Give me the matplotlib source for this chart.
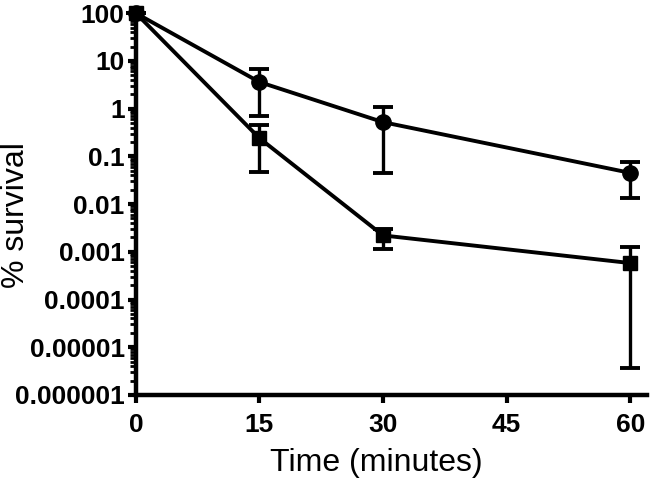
import numpy as np
import matplotlib.pyplot as plt
from matplotlib.ticker import FixedLocator, LogLocator, NullFormatter

plt.rcParams['font.family'] = ['Liberation Sans', 'DejaVu Sans']

time_min = [0, 15, 30, 60]

# circles
circ_mean = [100, 3.6, 0.52, 0.045]
circ_low = [100, 0.70, 0.045, 0.0134]
circ_high = [100, 6.7, 1.07, 0.076]

# squares
sq_mean = [100, 0.24, 0.0022, 0.00058]
sq_low = [100, 0.047, 0.00114, 0.0000037]
sq_high = [100, 0.45, 0.003, 0.00126]

y_ticks = [1e-6, 1e-5, 1e-4, 1e-3, 1e-2, 1e-1, 1, 10, 100]
y_labels = ["0.000001", "0.00001", "0.0001", "0.001", "0.01", "0.1", "1", "10", "100"]
x_ticks = [0, 15, 30, 45, 60]

fig = plt.figure(figsize=(6.5, 4.87), dpi=100)
ax = fig.add_axes([0.209, 0.189, 0.786, 0.784])


def draw(mean, low, high, marker, ms):
    mean = np.array(mean)
    err = [mean - np.array(low), np.array(high) - mean]
    ax.errorbar(time_min, mean, yerr=err, color='black', lw=2.8,
                marker=marker, ms=ms, capsize=7, capthick=2.8, elinewidth=2.4,
                clip_on=False, zorder=3)


draw(circ_mean, circ_low, circ_high, 'o', 11)
draw(sq_mean, sq_low, sq_high, 's', 10)

ax.set_yscale('log')
ax.set_ylim(1e-6, 100)
ax.set_xlim(0, 62)
ax.yaxis.set_major_locator(FixedLocator(y_ticks))
ax.set_yticklabels(y_labels)
ax.yaxis.set_minor_locator(LogLocator(base=10, subs=np.arange(2, 10), numticks=20))
ax.yaxis.set_minor_formatter(NullFormatter())
ax.set_xticks(x_ticks)

for s in ['top', 'right']:
    ax.spines[s].set_visible(False)
for s in ['left', 'bottom']:
    ax.spines[s].set_linewidth(3.2)

ax.tick_params(axis='both', which='major', direction='out', length=6, width=3,
               labelsize=19, pad=2)
ax.tick_params(axis='x', which='major', pad=7)
ax.tick_params(axis='y', which='minor', direction='out', length=4, width=2)
for lab in ax.get_xticklabels() + ax.get_yticklabels():
    lab.set_fontweight('bold')

ax.set_xlabel("Time (minutes)", fontsize=23)
ax.set_ylabel("% survival", fontsize=23)
ax.xaxis.set_label_coords(0.47, -0.14)
ax.yaxis.set_label_coords(-0.205, 0.47)

fig.savefig("out.png", dpi=100)
